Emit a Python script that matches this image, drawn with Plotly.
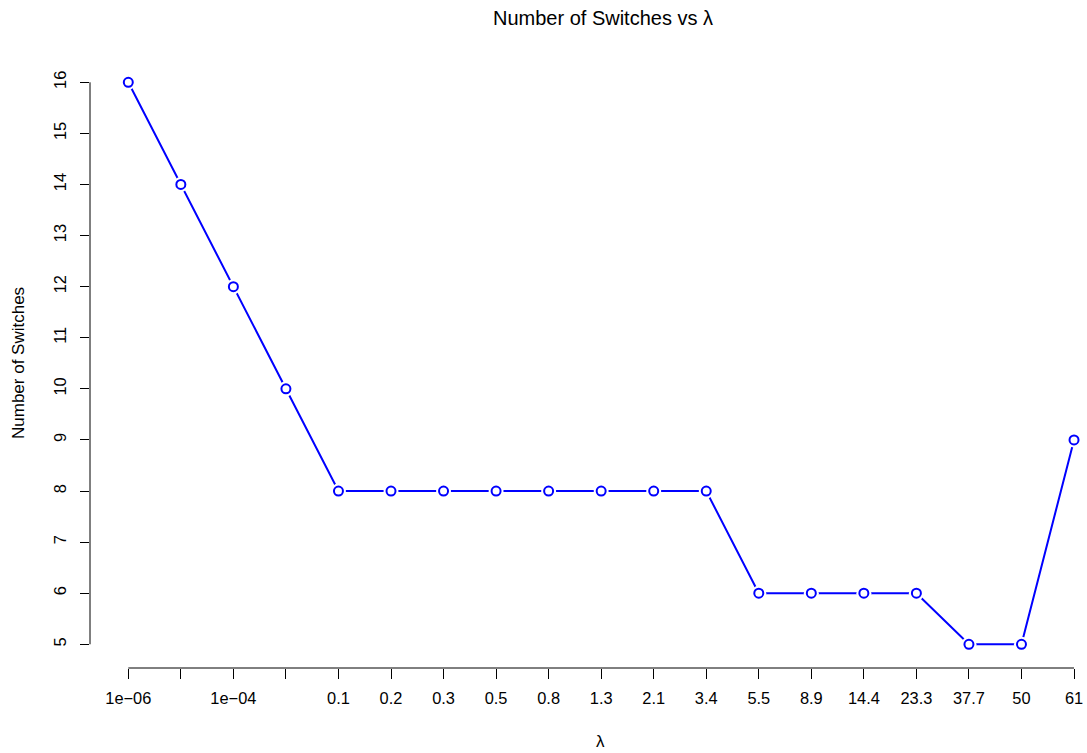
import plotly.graph_objects as go

# ---- data ----
lambda_labels = ["1e\u221206", "", "1e\u221204", "", "0.1", "0.2", "0.3", "0.5", "0.8",
                 "1.3", "2.1", "3.4", "5.5", "8.9", "14.4", "23.3", "37.7", "50", "61"]
num_switches = [16, 14, 12, 10, 8, 8, 8, 8, 8, 8, 8, 8, 6, 6, 6, 6, 5, 5, 9]
y_ticks = list(range(5, 17))

positions = list(range(1, len(lambda_labels) + 1))

W, H = 1087, 753
L, R, T, B = 90, 0, 60, 85
FONT = "Liberation Sans, Arial, Helvetica, sans-serif"
BLUE = "#0000FF"

fig = go.Figure()
# line
fig.add_trace(go.Scatter(x=positions, y=num_switches, mode="lines",
                         line=dict(color=BLUE, width=2), hoverinfo="skip", showlegend=False))
# white gaps around points (type="b" look)
fig.add_trace(go.Scatter(x=positions, y=num_switches, mode="markers",
                         marker=dict(symbol="circle", size=15, color="white",
                                     line=dict(width=0)),
                         hoverinfo="skip", showlegend=False))
# open circles
fig.add_trace(go.Scatter(x=positions, y=num_switches, mode="markers",
                         marker=dict(symbol="circle-open", size=9, color=BLUE,
                                     line=dict(width=2, color=BLUE)),
                         showlegend=False))

fig.update_layout(
    width=W, height=H,
    margin=dict(l=L, r=R, t=T, b=B, pad=0),
    paper_bgcolor="white", plot_bgcolor="white",
    font=dict(family=FONT, size=16, color="black"),
    title=dict(text="Number of Switches vs \u03bb", x=603 / W, xref="container",
               xanchor="center", y=1 - 18 / H, yref="container", yanchor="middle",
               font=dict(size=20, family=FONT, color="black")),
    xaxis=dict(range=[0.271, 19.247], tickmode="array", tickvals=positions,
               ticktext=lambda_labels, ticks="outside", ticklen=10, tickwidth=1,
               tickcolor="black", showgrid=False, zeroline=False, showline=False,
               tickfont=dict(size=16.4), ticklabelstandoff=5),
    yaxis=dict(range=[4.536, 16.4365], tickmode="array", tickvals=y_ticks,
               ticktext=[str(v) for v in y_ticks], ticks="outside", ticklen=9,
               tickwidth=1, tickcolor="black", showgrid=False, zeroline=False,
               showline=False, tickangle=-90, tickfont=dict(size=16.4),
               ticklabelstandoff=7),
    shapes=[
        dict(type="line", xref="x", yref="paper", x0=positions[0], x1=positions[-1],
             y0=0, y1=0, line=dict(color="black", width=1)),
        dict(type="line", xref="paper", yref="y", x0=0, x1=0,
             y0=min(y_ticks), y1=max(y_ticks), line=dict(color="black", width=1)),
    ],
    annotations=[
        dict(text="\u03bb", xref="paper", yref="paper", x=(600 - L) / (W - L - R),
             y=-(741 - (H - B)) / (H - T - B), xanchor="center", yanchor="middle",
             showarrow=False, font=dict(size=17)),
        dict(text="Number of Switches", xref="paper", yref="paper",
             x=-(L - 18) / (W - L - R), y=(H - B - 363) / (H - T - B),
             xanchor="center", yanchor="middle",
             textangle=-90, showarrow=False, font=dict(size=17)),
    ],
)

fig.write_html("out.html")
